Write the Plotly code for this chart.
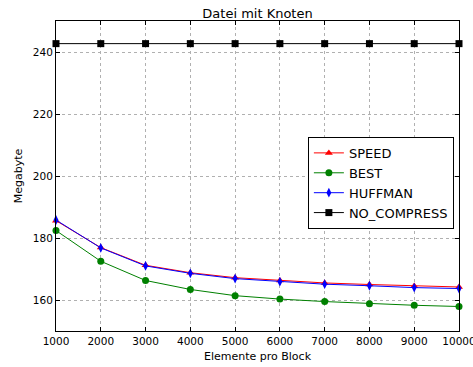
import plotly.graph_objects as go

x = [1000, 2000, 3000, 4000, 5000, 6000, 7000, 8000, 9000, 10000]
speed = [185.6, 176.9, 171.2, 168.8, 167.2, 166.3, 165.5, 165.0, 164.5, 164.2]
best = [182.4, 172.5, 166.3, 163.4, 161.4, 160.3, 159.5, 158.8, 158.3, 157.9]
huffman = [185.8, 176.8, 171.0, 168.6, 166.9, 165.9, 165.1, 164.6, 164.0, 163.7]
no_compress = [242.7] * 10

series = [
    ("SPEED", speed, "red", "triangle-up"),
    ("BEST", best, "green", "circle"),
    ("HUFFMAN", huffman, "blue", "diamond-tall"),
    ("NO_COMPRESS", no_compress, "black", "square"),
]

fig = go.Figure()
for name, y, c, sym in series:
    fig.add_trace(go.Scatter(
        x=x, y=y, name=name, mode="lines+markers",
        line=dict(color=c, width=1),
        marker=dict(symbol=sym, size=7, color=c, line=dict(width=0)),
        cliponaxis=False,
    ))

font = "DejaVu Sans, sans-serif"
fig.update_layout(
    width=473, height=367,
    margin=dict(l=56, r=14, t=21, b=36),
    paper_bgcolor="white", plot_bgcolor="white",
    font=dict(family=font, size=10.5, color="black"),
    title=dict(text="Datei mit Knoten", x=0.5 * (56 + 459) / 473, xanchor="center",
               y=1 - 13 / 367, yanchor="middle", font=dict(size=13)),
    showlegend=True,
    legend=dict(x=0.625, y=0.626, xanchor="left", yanchor="top",
                bgcolor="white", bordercolor="black", borderwidth=1,
                font=dict(size=13), tracegroupgap=0),
)
fig.update_xaxes(
    range=[1000, 10000], tickvals=x, ticktext=[str(v) for v in x],
    ticklabeloverflow="allow", automargin=False,
    showgrid=True, gridcolor="#b0b0b0", griddash="dot", gridwidth=1,
    showline=True, linecolor="black", linewidth=1, mirror="ticks",
    ticks="inside", ticklen=4, tickcolor="black",
    zeroline=False,
    title=dict(text="Elemente pro Block", font=dict(size=11), standoff=6),
)
fig.update_yaxes(
    range=[150, 250], tickvals=[160, 180, 200, 220, 240],
    automargin=False,
    showgrid=True, gridcolor="#b0b0b0", griddash="dot", gridwidth=1,
    showline=True, linecolor="black", linewidth=1, mirror="ticks",
    ticks="inside", ticklen=4, tickcolor="black",
    zeroline=False,
    title=dict(text="Megabyte", font=dict(size=11), standoff=8),
)
fig.write_html("out.html")
